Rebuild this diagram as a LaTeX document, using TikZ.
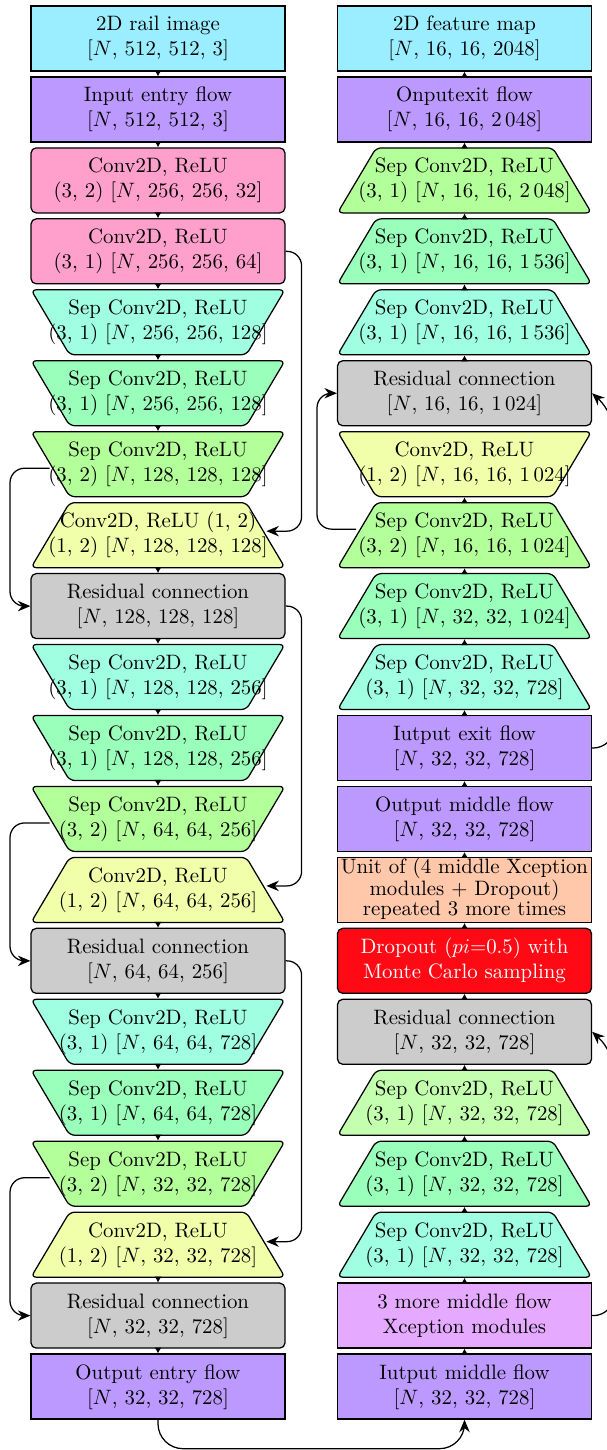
\documentclass[tikz,border=0pt]{standalone}
\usetikzlibrary{shapes.geometric, arrows.meta}
\definecolor{ccyan}{RGB}{155,238,255}
\definecolor{cpurple}{RGB}{187,153,255}
\definecolor{cpink}{RGB}{255,160,204}
\definecolor{caqua}{RGB}{160,255,224}
\definecolor{cmint}{RGB}{153,255,187}
\definecolor{clgreen}{RGB}{179,255,153}
\definecolor{cpale}{RGB}{196,255,176}
\definecolor{cyellow}{RGB}{242,255,170}
\definecolor{cgray}{RGB}{204,204,204}
\definecolor{cpeach}{RGB}{255,200,170}
\definecolor{cred}{RGB}{255,10,20}
\definecolor{cviolet}{RGB}{229,170,255}
\newcommand\twoline[2]{\makebox[40pt]{\begin{tabular}{@{}c@{}}#1\\\relax #2\end{tabular}}}
\tikzset{
  box/.style={draw, line width=0.6pt, minimum width=121.9pt, minimum height=31.2pt, inner sep=0pt, align=center},
  plainbox/.style={box, rectangle},
  rbox/.style={box, rectangle, rounded corners=2.5pt},
  trapup/.style={box, trapezium, trapezium stretches=true, trapezium left angle=70, trapezium right angle=70, rounded corners=2.5pt},
  trapdown/.style={trapup, shape border rotate=180},
  flow/.style={-{Latex[length=2.8pt,width=3.4pt]}, line width=0.5pt},
  res/.style={-{Stealth[length=6pt,width=5pt]}, line width=0.6pt, rounded corners=7pt},
}
\begin{document}
\begin{tikzpicture}[x=0.48pt, y=-0.48pt]
\useasboundingbox (0,0) rectangle (606,1450);
% left column
\node[plainbox, fill=ccyan]   (r1)  at (158,38.5)   {\twoline{2D rail image}{[$N$, 512, 512, 3]}};
\node[plainbox, fill=cpurple] (r2)  at (158,109.45) {\twoline{Input entry flow}{[$N$, 512, 512, 3]}};
\node[rbox, fill=cpink]       (r3)  at (158,180.4)  {\twoline{Conv2D, ReLU}{(3, 2) [$N$, 256, 256, 32]}};
\node[rbox, fill=cpink]       (r4)  at (158,251.35) {\twoline{Conv2D, ReLU}{(3, 1) [$N$, 256, 256, 64]}};
\node[trapdown, fill=caqua]   (r5)  at (158,322.3)  {\twoline{Sep Conv2D, ReLU}{(3, 1) [$N$, 256, 256, 128]}};
\node[trapdown, fill=cmint]   (r6)  at (158,393.25) {\twoline{Sep Conv2D, ReLU}{(3, 1) [$N$, 256, 256, 128]}};
\node[trapdown, fill=clgreen] (r7)  at (158,464.2)  {\twoline{Sep Conv2D, ReLU}{(3, 2) [$N$, 128, 128, 128]}};
\node[trapup, fill=cyellow]   (r8)  at (158,535.15) {\twoline{Conv2D, ReLU (1, 2)}{(1, 2) [$N$, 128, 128, 128]}};
\node[rbox, fill=cgray]       (r9)  at (158,606.1)  {\twoline{Residual connection}{[$N$, 128, 128, 128]}};
\node[trapdown, fill=caqua]   (r10) at (158,677.05) {\twoline{Sep Conv2D, ReLU}{(3, 1) [$N$, 128, 128, 256]}};
\node[trapdown, fill=cmint]   (r11) at (158,748.0)  {\twoline{Sep Conv2D, ReLU}{(3, 1) [$N$, 128, 128, 256]}};
\node[trapdown, fill=clgreen] (r12) at (158,818.95) {\twoline{Sep Conv2D, ReLU}{(3, 2) [$N$, 64, 64, 256]}};
\node[trapup, fill=cyellow]   (r13) at (158,889.9)  {\twoline{Conv2D, ReLU}{(1, 2) [$N$, 64, 64, 256]}};
\node[rbox, fill=cgray]       (r14) at (158,960.85) {\twoline{Residual connection}{[$N$, 64, 64, 256]}};
\node[trapdown, fill=caqua]   (r15) at (158,1031.8) {\twoline{Sep Conv2D, ReLU}{(3, 1) [$N$, 64, 64, 728]}};
\node[trapdown, fill=cmint]   (r16) at (158,1102.75){\twoline{Sep Conv2D, ReLU}{(3, 1) [$N$, 64, 64, 728]}};
\node[trapdown, fill=clgreen] (r17) at (158,1173.7) {\twoline{Sep Conv2D, ReLU}{(3, 2) [$N$, 32, 32, 728]}};
\node[trapup, fill=cyellow]   (r18) at (158,1244.65){\twoline{Conv2D, ReLU}{(1, 2) [$N$, 32, 32, 728]}};
\node[rbox, fill=cgray]       (r19) at (158,1315.6) {\twoline{Residual connection}{[$N$, 32, 32, 728]}};
\node[plainbox, fill=cpurple] (r20) at (158,1386.55){\twoline{Output entry flow}{[$N$, 32, 32, 728]}};
% right column
\node[plainbox, fill=ccyan]   (q1)  at (464.5,38.5)   {\twoline{2D feature map}{[$N$, 16, 16, 2048]}};
\node[plainbox, fill=cpurple] (q2)  at (464.5,109.45) {\twoline{Onputexit flow}{[$N$, 16, 16, 2\,048]}};
\node[trapup, fill=clgreen]   (q3)  at (464.5,180.4)  {\twoline{Sep Conv2D, ReLU}{(3, 1) [$N$, 16, 16, 2\,048]}};
\node[trapup, fill=cmint]     (q4)  at (464.5,251.35) {\twoline{Sep Conv2D, ReLU}{(3, 1) [$N$, 16, 16, 1\,536]}};
\node[trapup, fill=caqua]     (q5)  at (464.5,322.3)  {\twoline{Sep Conv2D, ReLU}{(3, 1) [$N$, 16, 16, 1\,536]}};
\node[rbox, fill=cgray]       (q6)  at (464.5,393.25) {\twoline{Residual connection}{[$N$, 16, 16, 1\,024]}};
\node[trapdown, fill=cyellow] (q7)  at (464.5,464.2)  {\twoline{Conv2D, ReLU}{(1, 2) [$N$, 16, 16, 1\,024]}};
\node[trapup, fill=clgreen]   (q8)  at (464.5,535.15) {\twoline{Sep Conv2D, ReLU}{(3, 2) [$N$, 16, 16, 1\,024]}};
\node[trapup, fill=cmint]     (q9)  at (464.5,606.1)  {\twoline{Sep Conv2D, ReLU}{(3, 1) [$N$, 32, 32, 1\,024]}};
\node[trapup, fill=caqua]     (q10) at (464.5,677.05) {\twoline{Sep Conv2D, ReLU}{(3, 1) [$N$, 32, 32, 728]}};
\node[plainbox, fill=cpurple] (q11) at (464.5,748.0)  {\twoline{Iutput exit flow}{[$N$, 32, 32, 728]}};
\node[plainbox, fill=cpurple] (q12) at (464.5,818.95) {\twoline{Output middle flow}{[$N$, 32, 32, 728]}};
\node[plainbox, fill=cpeach]  (q13) at (464.5,889.9)  {\makebox[40pt]{\renewcommand\arraystretch{0.83}\begin{tabular}{@{}c@{}}Unit of (4 middle Xception\\modules + Dropout)\\repeated 3 more times\end{tabular}}};
\node[rbox, fill=cred, text=white] (q14) at (464.5,960.85) {\twoline{Dropout ($pi$=0.5) with}{Monte Carlo sampling}};
\node[rbox, fill=cgray]       (q15) at (464.5,1031.8) {\twoline{Residual connection}{[$N$, 32, 32, 728]}};
\node[trapup, fill=cpale]     (q16) at (464.5,1102.75){\twoline{Sep Conv2D, ReLU}{(3, 1) [$N$, 32, 32, 728]}};
\node[trapup, fill=cmint]     (q17) at (464.5,1173.7) {\twoline{Sep Conv2D, ReLU}{(3, 1) [$N$, 32, 32, 728]}};
\node[trapup, fill=caqua]     (q18) at (464.5,1244.65){\twoline{Sep Conv2D, ReLU}{(3, 1) [$N$, 32, 32, 728]}};
\node[plainbox, fill=cviolet] (q19) at (464.5,1315.6) {\twoline{3 more middle flow}{Xception modules}};
\node[plainbox, fill=cpurple] (q20) at (464.5,1386.55){\twoline{Iutput middle flow}{[$N$, 32, 32, 728]}};
% flow arrows
\foreach \a/\b in {1/2,2/3,3/4,4/5,5/6,6/7,8/9,9/10,10/11,11/12,13/14,14/15,15/16,16/17,18/19,19/20}
  \draw[flow] (r\a.south) -- (r\b.north);
\foreach \a/\b in {1/2,2/3,3/4,4/5,5/6,7/8,8/9,9/10,10/11,11/12,12/13,13/14,14/15,15/16,16/17,17/18,18/19,19/20}
  \draw[flow] (q\b.north) -- (q\a.south);
% guide x positions of the side lines
\coordinate (lx) at (10,0);
\coordinate (rx) at (317,0);
\coordinate (s7) at ([shift={(0,4)}]r7.west);
\coordinate (s12) at ([shift={(0,4)}]r12.west);
\coordinate (s17) at ([shift={(0,4)}]r17.west);
\coordinate (s8) at ([shift={(0,-6)}]q8.west);
% residual connections, left
\draw[res] (r4.east) -- ++(16,0) |- ([shift={(0,-4)}]r8.east);
\draw[res] (r9.east) -- ++(16,0) |- ([shift={(0,-4)}]r13.east);
\draw[res] (r14.east) -- ++(16,0) |- ([shift={(0,-3)}]r18.east);
\draw[res] (s7) -- (s7 -| lx) |- (r9.west);
\draw[res] (s12) -- (s12 -| lx) |- (r14.west);
\draw[res] (s17) -- (s17 -| lx) |- (r19.west);
% residual connections, right
\draw[res] (s8) -- (s8 -| rx) |- (q6.west);
\draw[res, rounded corners=10pt] (q11.east) -- ++(22,0) -- ([shift={(22,20)}]q6.east) -- (q6.east);
\draw[res, rounded corners=10pt] (q19.east) -- ++(22,0) -- ([shift={(22,20)}]q15.east) -- (q15.east);
% entry to middle
\draw[res, rounded corners=12pt] (r20.south) -- ++(0,29) -| (q20.south);
\end{tikzpicture}
\end{document}
